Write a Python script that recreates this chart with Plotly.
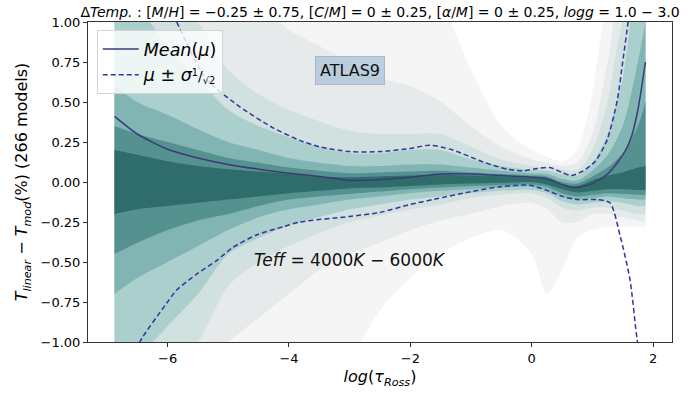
import plotly.graph_objects as go

# optical depth grid, log(tau_Ross)
log_tau = [-6.875, -6.5, -6.0, -5.5, -5.0, -4.5, -4.0, -3.5, -3.0, -2.5, -2.0, -1.5,
           -1.0, -0.5, 0.0, 0.25, 0.5, 0.75, 1.0, 1.25, 1.5, 1.75, 1.875]

# envelope levels of the model spread, outermost first (upper / lower bounds, %)
band_upper = [
    [1.2, 1.2, 1.2, 1.2, 1.2, 1.2, 1.2, 1.2, 1.2, 1.2, 1.2, 1.1,
     0.7, 0.35, 0.2, 0.16, 0.13, 0.2, 0.55, 1.1, 1.2, 1.2, 1.2],
    [1.2, 1.2, 1.2, 1.2, 1.2, 1.1, 0.95, 0.85, 0.75, 0.65, 0.6, 0.5,
     0.35, 0.22, 0.14, 0.12, 0.1, 0.12, 0.3, 0.75, 1.2, 1.2, 1.2],
    [1.2, 1.2, 1.2, 1.0, 0.7, 0.55, 0.45, 0.38, 0.32, 0.3, 0.3, 0.3,
     0.22, 0.14, 0.1, 0.09, 0.08, 0.07, 0.2, 0.5, 1.0, 1.2, 1.2],
    [1.2, 1.1, 0.85, 0.65, 0.45, 0.35, 0.28, 0.22, 0.18, 0.18, 0.2, 0.2,
     0.14, 0.1, 0.075, 0.07, 0.05, 0.04, 0.12, 0.3, 0.65, 1.2, 1.2],
    [0.6, 0.5, 0.42, 0.33, 0.25, 0.2, 0.15, 0.12, 0.1, 0.1, 0.11, 0.11,
     0.09, 0.07, 0.055, 0.05, 0.02, 0.01, 0.07, 0.17, 0.35, 0.75, 1.0],
    [0.35, 0.3, 0.25, 0.2, 0.15, 0.12, 0.09, 0.07, 0.055, 0.06, 0.065, 0.07,
     0.06, 0.05, 0.04, 0.035, 0.0, -0.01, 0.035, 0.09, 0.18, 0.35, 0.5],
    [0.2, 0.17, 0.13, 0.1, 0.08, 0.065, 0.05, 0.035, 0.03, 0.035, 0.04, 0.045,
     0.04, 0.035, 0.025, 0.02, -0.015, -0.025, 0.01, 0.04, 0.06, 0.09, 0.1],
]
band_lower = [
    [-1.2, -1.2, -1.2, -1.2, -1.2, -1.2, -1.2, -1.2, -1.1, -0.8, -0.6, -0.45,
     -0.35, -0.3, -0.45, -0.7, -0.55, -0.35, -0.3, -0.28, -0.28, -0.28, -0.28],
    [-1.2, -1.2, -1.2, -1.2, -1.0, -0.85, -0.7, -0.55, -0.45, -0.38, -0.3, -0.24,
     -0.2, -0.15, -0.13, -0.17, -0.25, -0.25, -0.2, -0.2, -0.22, -0.24, -0.25],
    [-1.2, -1.2, -1.2, -1.0, -0.65, -0.5, -0.4, -0.32, -0.25, -0.21, -0.17, -0.14,
     -0.1, -0.08, -0.07, -0.1, -0.16, -0.18, -0.16, -0.16, -0.18, -0.2, -0.2],
    [-1.2, -1.1, -0.9, -0.7, -0.45, -0.35, -0.27, -0.22, -0.17, -0.14, -0.11, -0.09,
     -0.07, -0.055, -0.05, -0.07, -0.12, -0.14, -0.13, -0.12, -0.13, -0.15, -0.15],
    [-0.7, -0.6, -0.5, -0.4, -0.3, -0.22, -0.17, -0.14, -0.11, -0.09, -0.07, -0.055,
     -0.045, -0.035, -0.03, -0.05, -0.09, -0.11, -0.1, -0.09, -0.1, -0.11, -0.11],
    [-0.45, -0.38, -0.3, -0.24, -0.2, -0.15, -0.11, -0.09, -0.075, -0.06, -0.045, -0.035,
     -0.025, -0.02, -0.015, -0.03, -0.07, -0.09, -0.08, -0.07, -0.075, -0.08, -0.08],
    [-0.2, -0.17, -0.15, -0.13, -0.11, -0.09, -0.07, -0.055, -0.04, -0.035, -0.025, -0.015,
     -0.01, -0.005, 0.0, -0.015, -0.045, -0.065, -0.055, -0.045, -0.045, -0.05, -0.05],
]
band_colors = ["#f5f5f5", "#e7eaea", "#d0e1e0", "#abcfcd", "#81b5b3", "#55918e", "#2e6d6a"]

# mean difference over all models
mean_x = [-6.875, -6.5, -6.0, -5.5, -5.0, -4.5, -4.0, -3.5, -3.0, -2.5, -2.0, -1.5,
          -1.0, -0.5, 0.0, 0.25, 0.5, 0.7, 1.0, 1.25, 1.41, 1.55, 1.65, 1.75, 1.875]
mean_y = [0.41, 0.30, 0.205, 0.15, 0.11, 0.08, 0.055, 0.035, 0.01, 0.015, 0.03, 0.05,
          0.05, 0.04, 0.03, 0.02, -0.015, -0.035, -0.01, 0.05, 0.12, 0.2, 0.29, 0.45, 0.75]

# mean + sigma/sqrt(2)
up_x = [-5.85, -5.6, -5.36, -4.81, -4.27, -3.82, -3.5, -3.0, -2.5, -2.0, -1.68, -1.3,
        -0.8, -0.4, -0.14, 0.1, 0.3, 0.5, 0.65, 0.85, 1.05, 1.24, 1.41, 1.5, 1.59, 1.65]
up_y = [1.0, 0.8, 0.64, 0.47, 0.34, 0.26, 0.22, 0.19, 0.19, 0.21, 0.23, 0.2,
        0.125, 0.08, 0.07, 0.085, 0.09, 0.06, 0.04, 0.07, 0.13, 0.26, 0.51, 0.75, 1.0, 1.15]

# mean - sigma/sqrt(2)
lo_x = [-6.55, -6.46, -6.02, -5.85, -5.5, -5.19, -4.93, -4.53, -4.1, -3.82, -3.0, -2.5,
        -2.0, -1.63, -1.0, -0.52, -0.03, 0.3, 0.5, 0.75, 1.08, 1.29, 1.46, 1.62, 1.74, 1.8]
lo_y = [-1.1, -1.0, -0.76, -0.675, -0.57, -0.49, -0.41, -0.33, -0.28, -0.25, -0.215, -0.19,
        -0.14, -0.11, -0.06, -0.03, -0.02, -0.06, -0.09, -0.11, -0.11, -0.13, -0.34, -0.61, -0.99, -1.1]

title_text = ("Δ<i>Temp.</i> : [<i>M</i>/<i>H</i>] = −0.25 ± 0.75, [<i>C</i>/<i>M</i>] = 0 ± 0.25, "
              "[<i>α</i>/<i>M</i>] = 0 ± 0.25, <i>logg</i> = 1.0 − 3.0")

FONT = "DejaVu Sans"
fig = go.Figure()

for up, lo, col in zip(band_upper, band_lower, band_colors):
    fig.add_trace(go.Scatter(x=log_tau, y=up, mode="lines", line=dict(width=0, shape="spline", smoothing=0.8),
                             showlegend=False, hoverinfo="skip"))
    fig.add_trace(go.Scatter(x=log_tau, y=lo, mode="lines", line=dict(width=0, shape="spline", smoothing=0.8),
                             fill="tonexty", fillcolor=col, showlegend=False, hoverinfo="skip"))

fig.add_trace(go.Scatter(x=mean_x, y=mean_y, mode="lines", name="<i>Mean</i>(<i>μ</i>)",
                         line=dict(color="#3b3a78", width=1.5, shape="spline", smoothing=0.7)))
fig.add_trace(go.Scatter(x=up_x, y=up_y, mode="lines",
                         name="<i>μ</i> ± <i>σ</i><span style='font-size:14px'><sup>1</sup>/<sub>√2</sub></span>",
                         line=dict(color="#34349a", width=1.5, dash="5px,3px", shape="spline", smoothing=0.7)))
fig.add_trace(go.Scatter(x=lo_x, y=lo_y, mode="lines", showlegend=False,
                         line=dict(color="#34349a", width=1.5, dash="5px,3px", shape="spline", smoothing=0.7)))

fig.add_annotation(x=-3.0, y=0.70, text="ATLAS9", showarrow=False,
                   font=dict(family=FONT, size=16, color="#111"),
                   bgcolor="rgba(176,200,218,0.85)", bordercolor="#a9b8c4", borderwidth=1, borderpad=4)
fig.add_annotation(x=-3.0, y=-0.49, text="<i>Teff</i> = 4000<i>K</i> − 6000<i>K</i>", showarrow=False,
                   font=dict(family=FONT, size=17, color="#111"))

fig.update_layout(
    width=700, height=394,
    margin=dict(l=88, r=28, t=22, b=52),
    paper_bgcolor="white", plot_bgcolor="white",
    font=dict(family=FONT, size=13, color="black"),
    title=dict(text=title_text, x=0.543, xanchor="center", y=0.97, yanchor="middle",
               font=dict(family=FONT, size=14)),
    showlegend=True,
    legend=dict(x=0.015, y=0.975, xanchor="left", yanchor="top", traceorder="normal",
                bgcolor="rgba(255,255,255,0.8)", bordercolor="#d4d4d4", borderwidth=1,
                font=dict(family=FONT, size=17.5), itemwidth=36, tracegroupgap=4),
    xaxis=dict(range=[-7.3125, 2.3125], tickvals=[-6, -4, -2, 0, 2], ticktext=["−6", "−4", "−2", "0", "2"],
               ticks="outside", ticklen=4, tickcolor="#333", showline=True, linecolor="#333", linewidth=1,
               mirror=True, showgrid=False, zeroline=False,
               title=dict(text="<i>log</i>(<i>τ<sub>Ross</sub></i>)", font=dict(family=FONT, size=16), standoff=6)),
    yaxis=dict(range=[-1, 1], tickvals=[-1, -0.75, -0.5, -0.25, 0, 0.25, 0.5, 0.75, 1], tickformat=".2f",
               ticks="outside", ticklen=4, tickcolor="#333", showline=True, linecolor="#333", linewidth=1,
               mirror=True, showgrid=False, zeroline=False,
               title=dict(text="<i>T<sub>linear</sub></i> − <i>T<sub>mod</sub></i>(%) (266 models)",
                          font=dict(family=FONT, size=16), standoff=8)),
)

fig.write_html("out.html")
